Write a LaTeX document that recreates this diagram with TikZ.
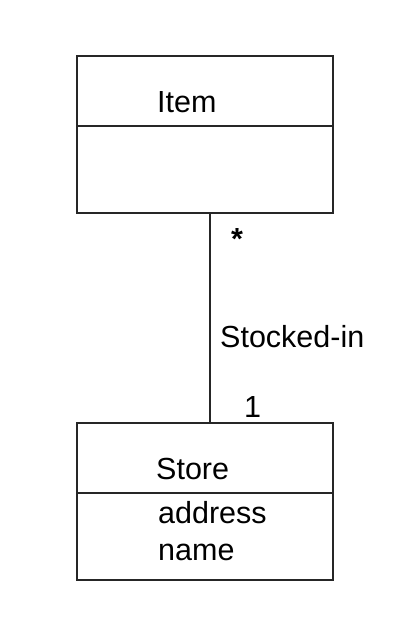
\documentclass[tikz,border=0pt]{standalone}
\usepackage{fontspec}
\setmainfont{Liberation Sans}
\begin{document}
\begin{tikzpicture}[x=1pt,y=-1pt,
  classbox/.style={draw=black!85,line width=1.3pt,minimum width=256pt,minimum height=157pt,inner sep=0pt},
  divider/.style={draw=black!85,line width=1.1pt},
  conn/.style={draw=black!85,line width=1.3pt},
  lbl/.style={anchor=base west,inner sep=0pt,font=\fontsize{30.5}{36}\selectfont}]
\useasboundingbox (0,0) rectangle (408,620);
\node[classbox] (item) at (205,134.5) {};
\node[classbox] (store) at (205,501.5) {};
\draw[divider] (77,126) -- (333,126);
\draw[divider] (77,493) -- (333,493);
\coordinate (lx) at (210,300);
\draw[conn] (item.south -| lx) -- (store.north -| lx);
\node[lbl] (itemname) at (157,113) {Item};
\node[lbl] (storename) at (156,479) {Store};
\node[lbl] (addr) at (158,523) {address};
\node[lbl] (nm) at (158,560) {name};
\node[lbl] (star) at (231,249) {\textbf{*}};
\node[lbl] (assoc) at (220,347) {Stocked-in};
\node[lbl] (one) at (244,417) {1};
\end{tikzpicture}
\end{document}
